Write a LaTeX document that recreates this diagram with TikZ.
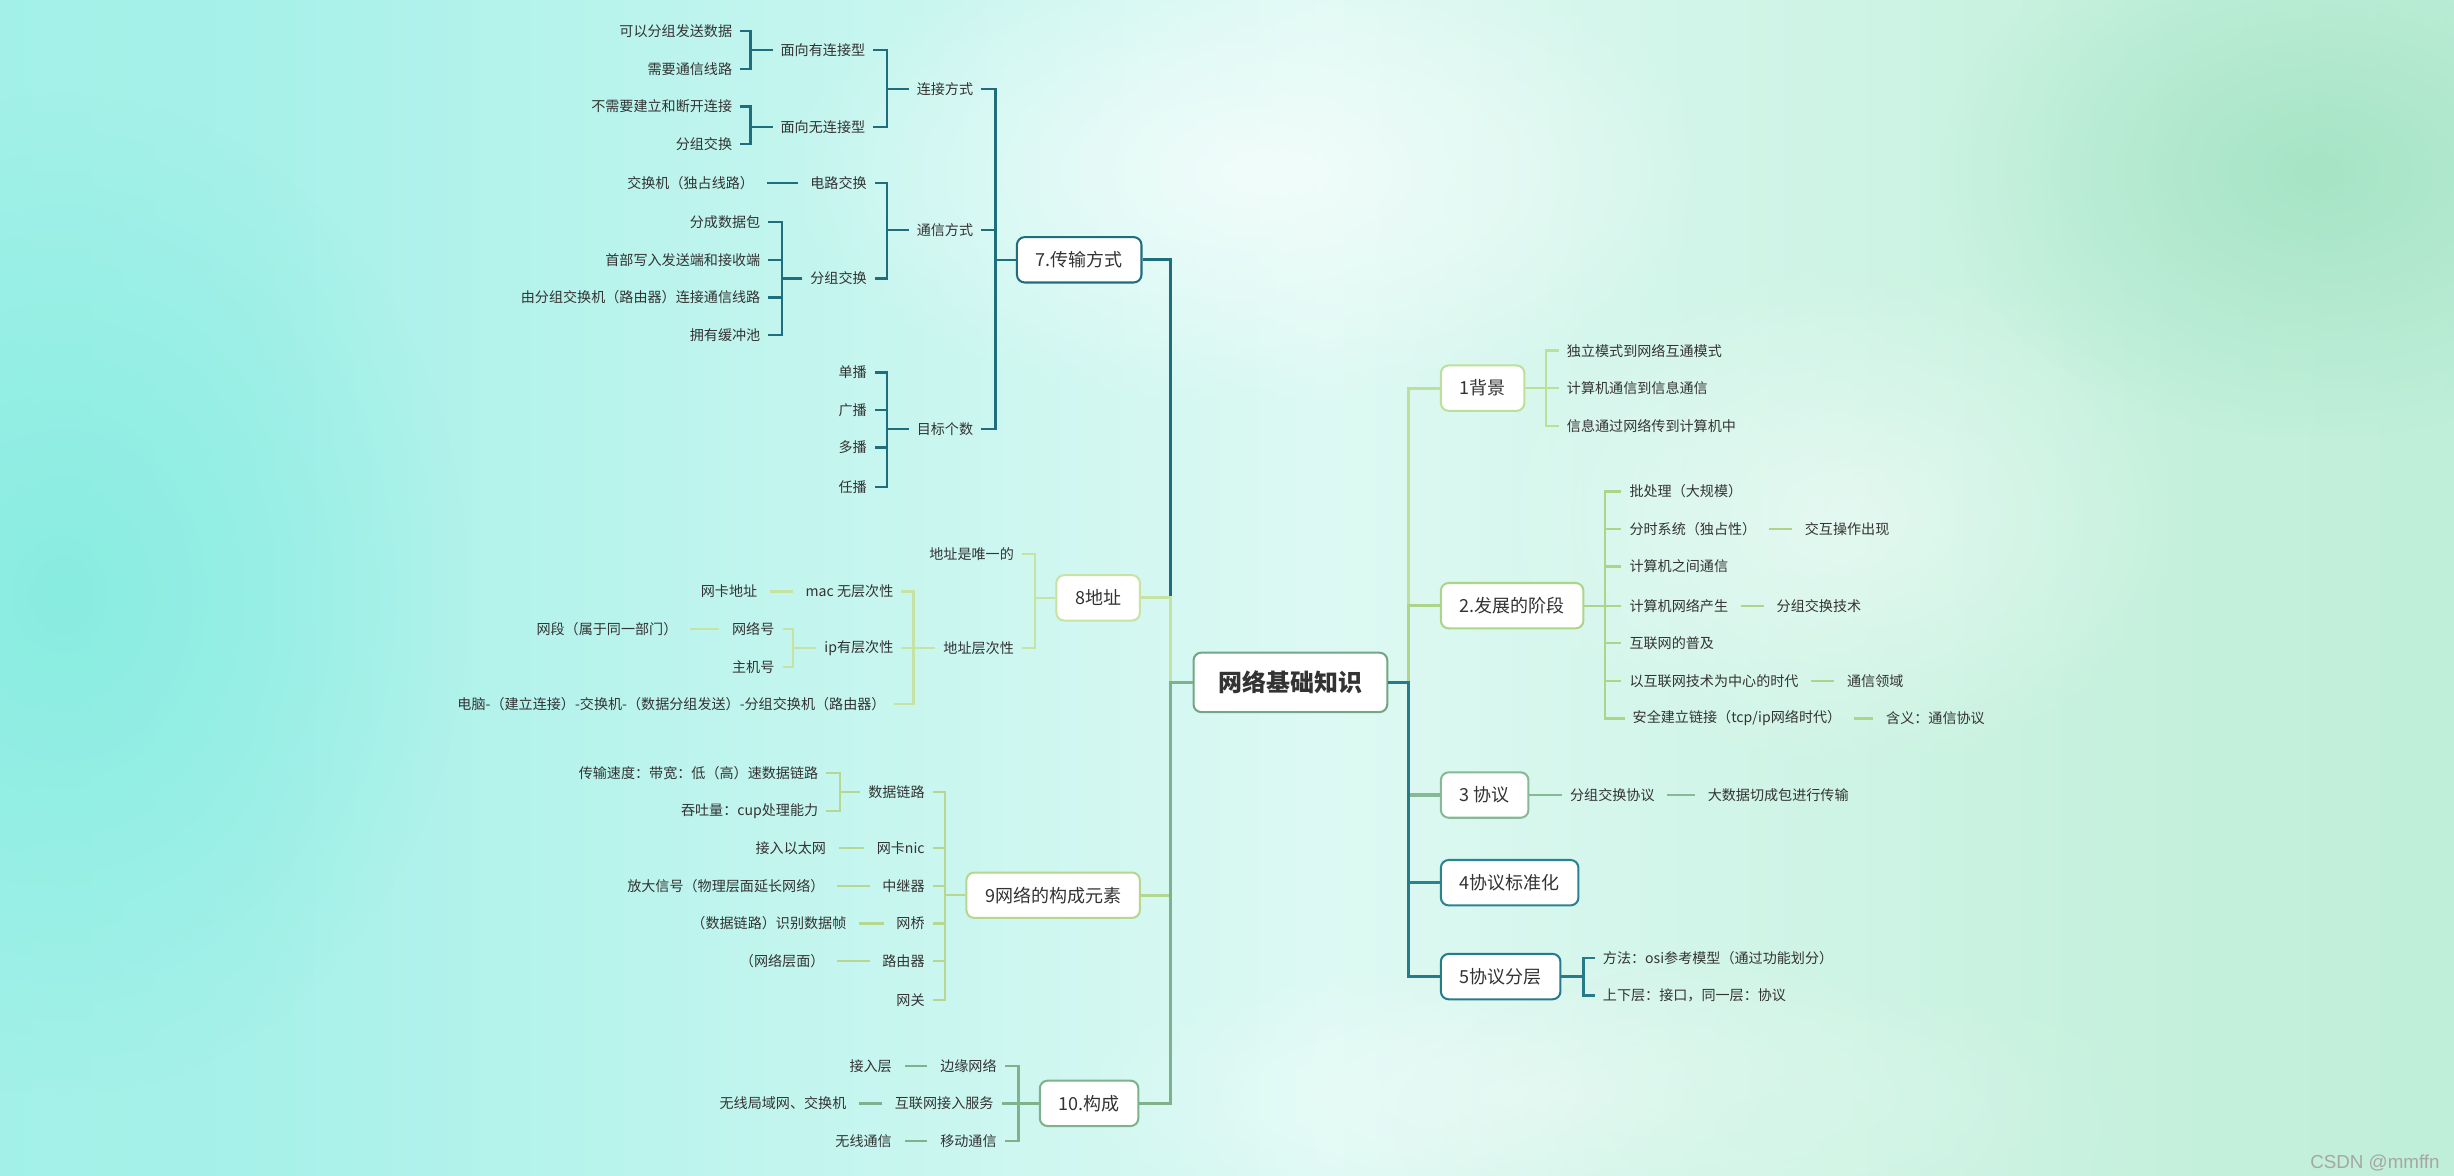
\documentclass[tikz,border=0pt]{standalone}
\usepackage{fontspec}
\setmainfont{Noto Sans CJK SC}
\newfontfamily\wmfont{Liberation Sans}
\usetikzlibrary{fadings}
\definecolor{bga}{HTML}{8EEEE3}
\definecolor{bgb}{HTML}{A6F1E9}
\definecolor{bgc}{HTML}{DDF9F3}
\definecolor{bgd}{HTML}{C3F0DB}
\definecolor{bge}{HTML}{ADE9CE}
\definecolor{bgcyan}{HTML}{86ECE0}
\definecolor{bggreen}{HTML}{A3E3C3}
\definecolor{bgmint}{HTML}{D2F5E6}
\definecolor{ink}{HTML}{333333}
\definecolor{croot}{HTML}{72A685}
\definecolor{c1}{HTML}{BEDF99}
\definecolor{c2}{HTML}{ADD488}
\definecolor{c3}{HTML}{86BA97}
\definecolor{c4}{HTML}{2A8392}
\definecolor{c5}{HTML}{267A8A}
\definecolor{c7}{HTML}{1F6E7E}
\definecolor{c8}{HTML}{C6E3A3}
\definecolor{c9}{HTML}{B5D78F}
\definecolor{c10}{HTML}{7DB28C}
\pgfdeclarehorizontalshading{bgshade}{100bp}{color(0bp)=(bga); color(30bp)=(bgb); color(52bp)=(bgc); color(70bp)=(bgd); color(100bp)=(bge)}
\tikzfading[name=softblob, inner color=transparent!10, outer color=transparent!100]

\begin{document}
\begin{tikzpicture}[x=1pt, y=-1pt, font=\fontsize{9}{11}\selectfont,
  topic/.style={draw, fill=white, rounded corners=5pt, line width=1.3pt,
    inner xsep=12pt, minimum height=29pt, text=ink,
    font=\fontsize{11.5}{13}\selectfont},
  leaf/.style={inner xsep=5pt, inner ysep=2pt, text=ink},
  lft/.style={leaf, anchor=east},
  rgt/.style={leaf, anchor=west},
  trunk/.style={line width=2pt},
  wire/.style={line width=1.5pt},
  link/.style={wire, shorten <=3pt, shorten >=3pt}]

  % background
  \useasboundingbox (0,0) rectangle (1568,751);
  \shade[shading=bgshade] (0,0) rectangle (1568,751);
  \fill[bgcyan, path fading=softblob] (40,380) ellipse (260pt and 320pt);
  \fill[white, path fading=softblob, opacity=.7] (800,110) ellipse (300pt and 150pt);
  \fill[white, path fading=softblob, opacity=.5] (1180,330) ellipse (220pt and 160pt);
  \fill[white, path fading=softblob, opacity=.5] (1000,700) ellipse (320pt and 90pt);
  \fill[bggreen, path fading=softblob] (1480,110) ellipse (240pt and 170pt);
  \fill[bgmint, path fading=softblob, opacity=.7] (1150,720) ellipse (260pt and 110pt);

  % centre and main topics
  \node[topic, draw=croot, font=\fontsize{15.3}{17}\selectfont\bfseries,
    minimum height=38pt, inner xsep=16pt] (root) at (824.5,436) {网络基础知识};
  \node[topic, draw=c1, anchor=west] (t1) at (920,248) {1背景};
  \node[topic, draw=c2, anchor=west] (t2) at (920,387) {2.发展的阶段};
  \node[topic, draw=c3, anchor=west] (t3) at (920,508) {3 协议};
  \node[topic, draw=c4, anchor=west] (t4) at (920,564) {4协议标准化};
  \node[topic, draw=c5, anchor=west] (t5) at (920,624) {5协议分层};
  \node[topic, draw=c7, anchor=east] (t7) at (730,166) {7.传输方式};
  \node[topic, draw=c8, anchor=east] (t8) at (729,382) {8地址};
  \node[topic, draw=c9, anchor=east] (t9) at (729,572) {9网络的构成元素};
  \node[topic, draw=c10, anchor=east] (t10) at (728,705) {10.构成};

  % 1背景
  \node[rgt] (n1a) at (996,224) {独立模式到网络互通模式};
  \node[rgt] (n1b) at (996,248) {计算机通信到信息通信};
  \node[rgt] (n1c) at (996,272) {信息通过网络传到计算机中};

  % 2.发展的阶段
  \node[rgt] (s1) at (1036,314) {批处理（大规模）};
  \node[rgt] (s2) at (1036,338) {分时系统（独占性）};
  \node[rgt] (s3) at (1036,362) {计算机之间通信};
  \node[rgt] (s4) at (1036,387) {计算机网络产生};
  \node[rgt] (s5) at (1036,411) {互联网的普及};
  \node[rgt] (s6) at (1036,435) {以互联网技术为中心的时代};
  \node[rgt] (s7) at (1038,459) {安全建立链接（tcp/ip网络时代）};
  \node[rgt] (s2x) at (1148,338) {交互操作出现};
  \node[rgt] (s4x) at (1130,387) {分组交换技术};
  \node[rgt] (s6x) at (1175,435) {通信领域};
  \node[rgt] (s7x) at (1200,459) {含义：通信协议};

  % 3 协议, 5协议分层
  \node[rgt] (p1) at (998,508) {分组交换协议};
  \node[rgt] (p2) at (1086,508) {大数据切成包进行传输};
  \node[rgt] (f1) at (1019,612) {方法：osi参考模型（通过功能划分）};
  \node[rgt] (f2) at (1019,636) {上下层：接口，同一层：协议};

  % 7.传输方式
  \node[lft] (lj) at (627,57) {连接方式};
  \node[lft] (mianyou) at (558,32) {面向有连接型};
  \node[lft] (mianwu) at (558,81) {面向无连接型};
  \node[lft] (a1) at (473,20) {可以分组发送数据};
  \node[lft] (a2) at (473,44) {需要通信线路};
  \node[lft] (b1) at (473,68) {不需要建立和断开连接};
  \node[lft] (b2) at (473,92) {分组交换};
  \node[lft] (tx) at (627,147) {通信方式};
  \node[lft] (dl) at (559,117) {电路交换};
  \node[lft] (dl1) at (487,117) {交换机（独占线路）};
  \node[lft] (fz) at (559,178) {分组交换};
  \node[lft] (fz1) at (491,142) {分成数据包};
  \node[lft] (fz2) at (491,166) {首部写入发送端和接收端};
  \node[lft] (fz3) at (491,190) {由分组交换机（路由器）连接通信线路};
  \node[lft] (fz4) at (491,214) {拥有缓冲池};
  \node[lft] (mb) at (627,274) {目标个数};
  \node[lft] (mb1) at (559,238) {单播};
  \node[lft] (mb2) at (559,262) {广播};
  \node[lft] (mb3) at (559,286) {多播};
  \node[lft] (mb4) at (559,311) {任播};

  % 8地址
  \node[lft] (wy) at (653,354) {地址是唯一的};
  \node[lft] (cc) at (653,414) {地址层次性};
  \node[lft] (mac) at (576,378) {mac 无层次性};
  \node[lft] (mac1) at (489,378) {网卡地址};
  \node[lft] (ip) at (576,414) {ip有层次性};
  \node[lft] (ip1) at (500,402) {网络号};
  \node[lft] (ip1a) at (438,402) {网段（属于同一部门）};
  \node[lft] (ip2) at (500,426) {主机号};
  \node[lft] (pc) at (571,450) {电脑-（建立连接）-交换机-（数据分组发送）-分组交换机（路由器）};

  % 9网络的构成元素
  \node[lft] (sj) at (596,506) {数据链路};
  \node[lft] (sj1) at (528,494) {传输速度：带宽：低（高）速数据链路};
  \node[lft] (sj2) at (528,518) {吞吐量：cup处理能力};
  \node[lft] (wk) at (596,542) {网卡nic};
  \node[lft] (wk1) at (533,542) {接入以太网};
  \node[lft] (zj) at (596,566) {中继器};
  \node[lft] (zj1) at (532,566) {放大信号（物理层面延长网络）};
  \node[lft] (wq) at (596,590) {网桥};
  \node[lft] (wq1) at (546,590) {（数据链路）识别数据帧};
  \node[lft] (ly) at (596,614) {路由器};
  \node[lft] (ly1) at (532,614) {（网络层面）};
  \node[lft] (wg) at (596,639) {网关};

  % 10.构成
  \node[lft] (by) at (642,681) {边缘网络};
  \node[lft] (by1) at (575,681) {接入层};
  \node[lft] (hl) at (640,705) {互联网接入服务};
  \node[lft] (hl1) at (546,705) {无线局域网、交换机};
  \node[lft] (yd) at (642,729) {移动通信};
  \node[lft] (yd1) at (575,729) {无线通信};

  % connectors from the centre
  \foreach \t/\c in {t7/c7, t8/c8, t9/c9, t10/c10}
    \draw[trunk, \c] (root.west) -- ++(-14,0) |- (\t.east);
  \foreach \t/\c in {t1/c1, t2/c2, t3/c3, t4/c4, t5/c5}
    \draw[trunk, \c] (root.east) -- ++(13,0) |- (\t.west);

  % right subtrees
  \foreach \n in {n1a, n1b, n1c}
    \draw[wire, c1] (t1.east) -- ++(13,0) |- (\n.west);
  \foreach \k in {1,...,7}
    \draw[wire, c2] (t2.east) -- ++(13,0) |- (s\k.west);
  \foreach \k in {2,4,6,7}
    \draw[link, c2] (s\k.east) -- (s\k x.west);
  \draw[wire, c3] (t3.east) -- (p1.west);
  \draw[link, c3] (p1.east) -- (p2.west);
  \foreach \n in {f1, f2}
    \draw[wire, c5] (t5.east) -- ++(14,0) |- (\n.west);

  % 7.传输方式
  \foreach \n in {lj, tx, mb}
    \draw[wire, c7] (t7.west) -- ++(-13,0) |- (\n.east);
  \foreach \n in {mianyou, mianwu}
    \draw[wire, c7] (lj.west) -- ++(-14,0) |- (\n.east);
  \foreach \n in {a1, a2}
    \draw[wire, c7] (mianyou.west) -- ++(-14,0) |- (\n.east);
  \foreach \n in {b1, b2}
    \draw[wire, c7] (mianwu.west) -- ++(-14,0) |- (\n.east);
  \foreach \n in {dl, fz}
    \draw[wire, c7] (tx.west) -- ++(-14,0) |- (\n.east);
  \draw[link, c7] (dl.west) -- (dl1.east);
  \foreach \n in {fz1, fz2, fz3, fz4}
    \draw[wire, c7] (fz.west) -- ++(-13,0) |- (\n.east);
  \foreach \n in {mb1, mb2, mb3, mb4}
    \draw[wire, c7] (mb.west) -- ++(-14,0) |- (\n.east);

  % 8地址
  \foreach \n in {wy, cc}
    \draw[wire, c8] (t8.west) -- ++(-13,0) |- (\n.east);
  \foreach \n in {mac, ip, pc}
    \draw[wire, c8] (cc.west) -- ++(-14,0) |- (\n.east);
  \draw[link, c8] (mac.west) -- (mac1.east);
  \foreach \n in {ip1, ip2}
    \draw[wire, c8] (ip.west) -- ++(-15,0) |- (\n.east);
  \draw[link, c8] (ip1.west) -- (ip1a.east);

  % 9网络的构成元素
  \foreach \n in {sj, wk, zj, wq, ly, wg}
    \draw[wire, c9] (t9.west) -- ++(-13,0) |- (\n.east);
  \foreach \n in {sj1, sj2}
    \draw[wire, c9] (sj.west) -- ++(-13,0) |- (\n.east);
  \foreach \n in {wk, zj, wq, ly}
    \draw[link, c9] (\n.west) -- (\n1.east);

  % 10.构成
  \foreach \n in {by, hl, yd} {
    \draw[wire, c10] (t10.west) -- ++(-13,0) |- (\n.east);
    \draw[link, c10] (\n.west) -- (\n1.east);
  }

  % watermark
  \node[anchor=east, inner sep=0pt, text=black!35, font=\wmfont\fontsize{12}{14}\selectfont]
    (wm) at (1559,743) {CSDN @mmffn};
\end{tikzpicture}
\end{document}
